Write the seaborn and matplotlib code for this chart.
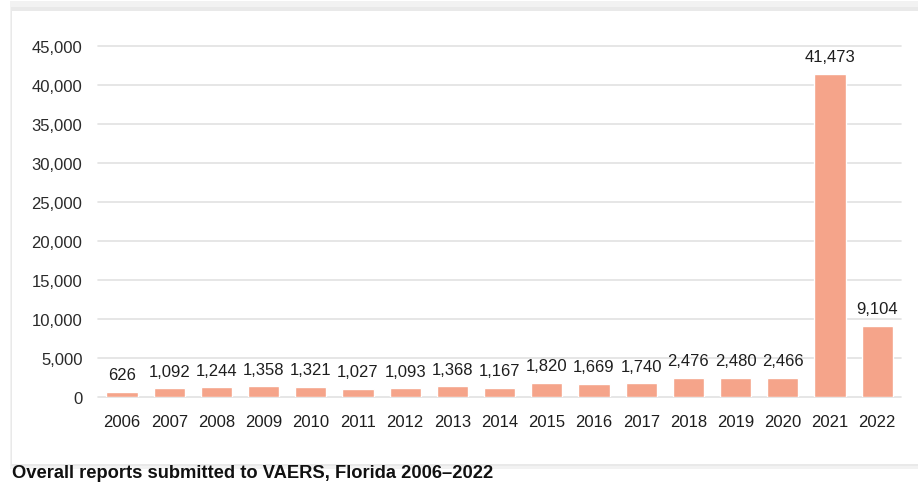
import matplotlib
matplotlib.use("Agg")
import matplotlib.pyplot as plt
from matplotlib.patches import Rectangle
import seaborn as sns
import pandas as pd

# data
years = ["2006", "2007", "2008", "2009", "2010", "2011", "2012", "2013", "2014",
         "2015", "2016", "2017", "2018", "2019", "2020", "2021", "2022"]
reports = [626, 1092, 1244, 1358, 1321, 1027, 1093, 1368, 1167,
           1820, 1669, 1740, 2476, 2480, 2466, 41473, 9104]
y_ticks = [0, 5000, 10000, 15000, 20000, 25000, 30000, 35000, 40000, 45000]
caption = "Overall reports submitted to VAERS, Florida 2006\u20132022"

df = pd.DataFrame({"year": years, "reports": reports})

sns.set_theme(style="white")
plt.rcParams["font.family"] = ["Liberation Sans", "DejaVu Sans"]

fig = plt.figure(figsize=(9.18, 4.85), dpi=100)

# card with soft shadow behind the chart (runs off the right edge)
W, H = 918, 485
fig.patches.append(Rectangle((10 / W, 1 - 470 / H), 910 / W, 468 / H,
                             transform=fig.transFigure, facecolor="#f2f2f2",
                             edgecolor="none", zorder=-3))
fig.patches.append(Rectangle((11 / W, 1 - 467 / H), 909 / W, 459 / H,
                             transform=fig.transFigure, facecolor="#e9e9e9",
                             edgecolor="none", zorder=-2))
fig.patches.append(Rectangle((12 / W, 1 - 465 / H), 908 / W, 453 / H,
                             transform=fig.transFigure, facecolor="white",
                             edgecolor="none", zorder=-1))

ax = fig.add_axes([98.4 / W, 1 - 398 / H, 802.4 / W, 351 / H])
ax.set_facecolor("none")

sns.barplot(data=df, x="year", y="reports", color="#F5A48A", saturation=1,
            width=0.66, ax=ax, zorder=3)

for i, v in enumerate(reports):
    ax.annotate(f"{v:,}", (i, v), xytext=(0, 7), textcoords="offset points",
                ha="center", va="bottom", fontsize=12, color="#1e1e1e")

ax.set_xlim(-0.5, len(years) - 0.5)
ax.set_ylim(0, 45000)
ax.set_yticks(y_ticks)
ax.set_yticklabels([f"{t:,}" for t in y_ticks])
ax.yaxis.grid(True, color="#e2e2e2", linewidth=1.2, zorder=0)
ax.set_axisbelow(True)
for gl in ax.get_ygridlines():
    gl.set_clip_on(False)

ax.tick_params(axis="y", length=0, pad=11.5, labelsize=12, labelcolor="#2a2a2a")
ax.tick_params(axis="x", length=0, pad=12.5, labelsize=12, labelcolor="#1e1e1e")
ax.set_xlabel("")
ax.set_ylabel("")
sns.despine(ax=ax, left=True, bottom=True)

fig.text(12 / W, 1 - 474 / H, caption, fontsize=13.2, fontweight="bold",
         color="#111111", ha="left", va="center")

fig.savefig("out.png", dpi=100)
